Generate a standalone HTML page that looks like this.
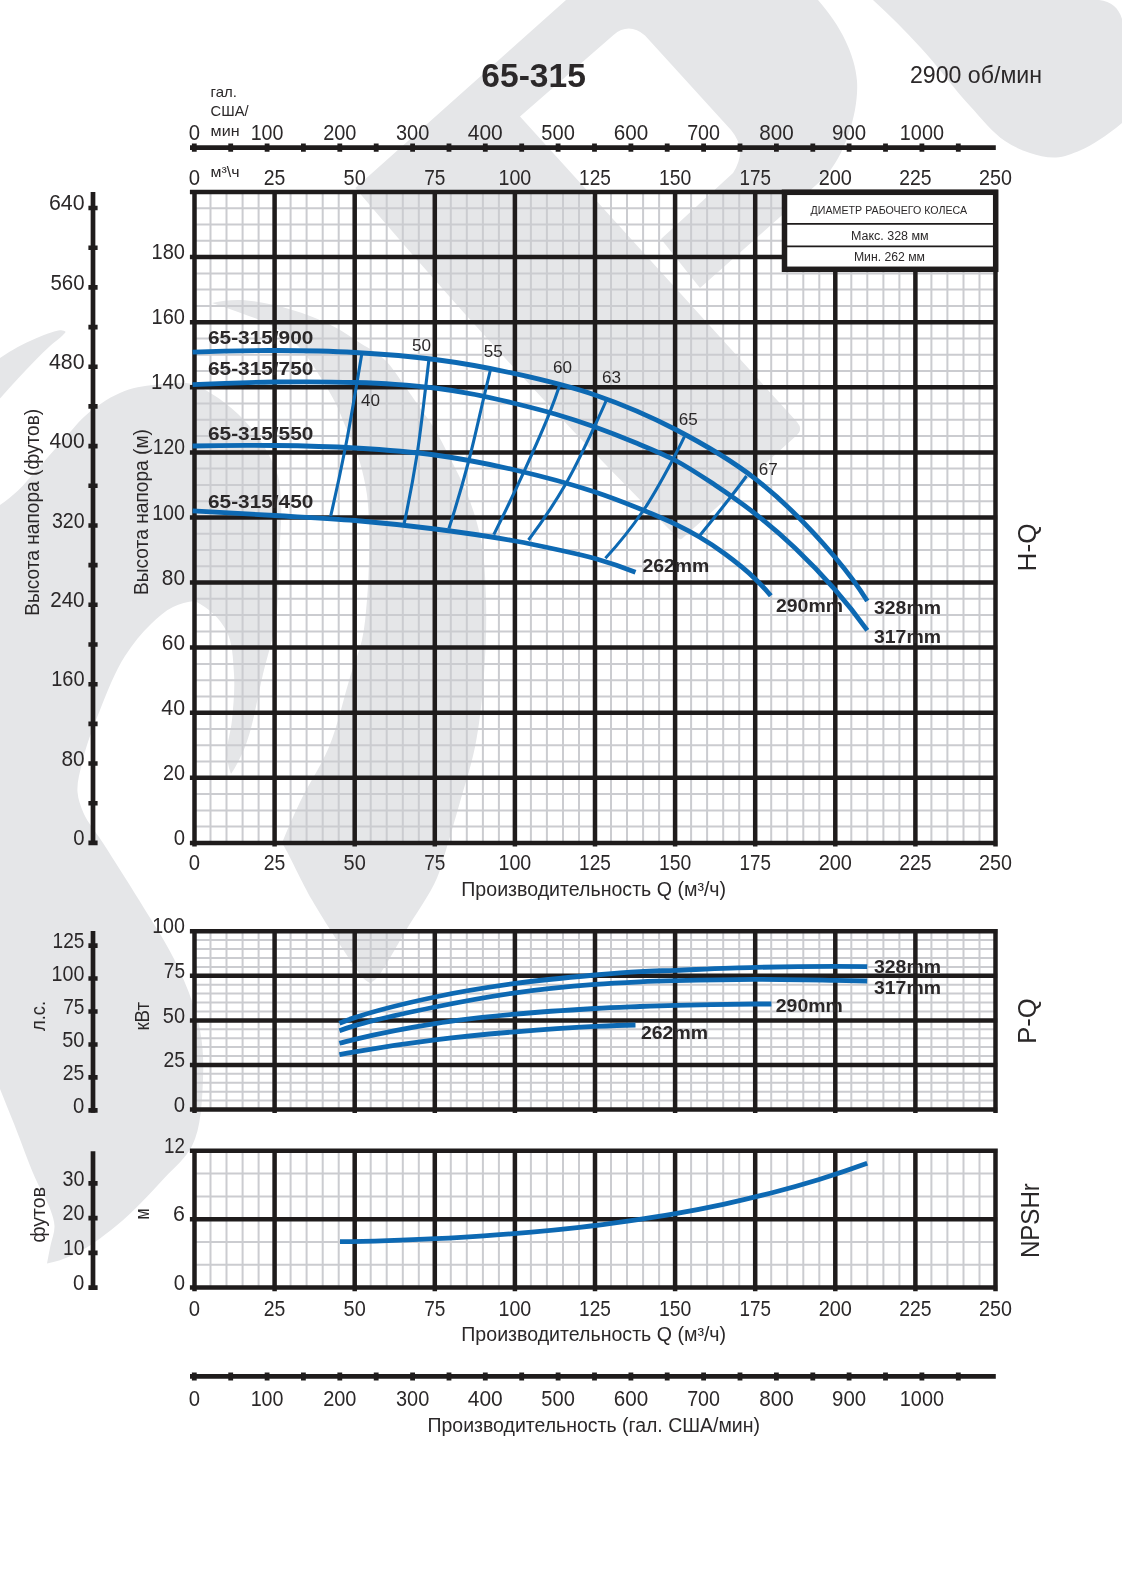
<!DOCTYPE html>
<html><head><meta charset="utf-8"><title>65-315</title>
<style>html,body{margin:0;padding:0;background:#fff;overflow:hidden}svg{display:block}text{font-family:"Liberation Sans",sans-serif;fill:#2b2829}</style></head><body>
<svg style="will-change:transform" width="1122" height="1573" viewBox="0 0 1122 1573">
<rect width="1122" height="1573" fill="#fff"/>
<g fill="#e5e6e8" stroke="none">
<path d="M0,358C5.8,354 11.7,350.3 17.8,347C23.6,343.8 29.7,341.1 35.6,338.5C41.1,336.2 46.9,333.6 52,332.2C55.1,331.3 58.3,330 61,330.3C62.6,330.5 65.3,330.9 65.5,331.8C65.7,332.6 64,333.9 63,335C60.1,338.3 54.3,342.1 50,346C45.1,350.4 40.5,355.1 35.6,360C29.7,365.9 23.7,372.4 17.8,378.7C11.8,385.2 5.9,391.8 0,398.5Z"/>
<path d="M0,505C6.2,500.8 12.2,496.1 17.8,490.8C24.1,484.9 29.4,477.9 35.6,471C44,461.6 53.3,450.8 62.3,441C71.1,431.4 78.9,420.7 89,412.5C99.6,403.9 112.1,395.7 124.6,391C135.9,386.8 148.3,385.4 160,384.3C170.7,383.3 182.4,381.6 192,384C199.3,385.9 205.4,390 212,394C220.8,399.4 230.1,406.5 238,414C246.1,421.7 254,431.3 260,440C264.1,446 267.4,451.8 270.5,458C273.4,463.9 276.3,469.6 278,476C280,483.5 280.4,491.3 281,500C282.1,517.2 279.8,540 279,560C278.2,580 278.9,600.5 276,620C273.3,638.4 267.5,655.4 263,674C257.3,697.4 253.1,727 245,747C240.9,757.1 236.2,766.1 231,774C228.7,768.1 227.4,761.8 227,755C226.4,744.4 230.8,732.1 232,720C233.4,705.3 235,689.2 234,674C233,659.2 232.8,642.3 226,630C219.5,618.2 209.1,608.5 195,601C187.2,601.7 179.9,603.7 173,607C165,610.9 158,617.4 151,624C141.7,632.9 132.7,644 125,656C114.9,671.8 107.3,691.7 100,710C93,727.4 85.8,746.6 82,763C79.7,773.1 76.8,782.8 77.5,792C78.1,799.3 80.5,806 83.5,813C87.9,823.1 96.1,832.3 103,843C114,860.2 127.1,880.5 139,900C152.2,921.7 167.5,944.1 178,967C187.4,987.5 196.1,1009.2 200,1030C203.1,1046.5 203.7,1062.1 203,1079C202.1,1100.5 201.2,1127.8 192,1146C185.5,1158.7 174.5,1167.1 164.4,1178C150,1193.6 132.9,1212.3 116,1226C102.2,1237.2 87.1,1248.5 73,1255C64.3,1259 55.6,1261.9 47,1263.5C48.1,1257.6 49.3,1251.6 50.5,1245.5C51.8,1239.1 54.7,1232.3 54.5,1226C54.3,1220.5 52.4,1215.6 50.5,1210C47.1,1200.1 40.2,1189.4 35.2,1178C28.1,1161.8 21.1,1141.7 14.5,1125C9.5,1112.5 4.7,1100.5 0,1089Z"/>
<path d="M212,303C220.4,301 229,300 238,300C249.5,300 262.2,302.4 274,305C286.2,307.7 298.7,311.7 310,316C319.3,319.6 328.2,323.5 336.5,328C343.7,331.9 350,336.4 357,341C366,346.9 377,352.4 385,360C392.5,367.2 397.9,376.7 404,385C409.6,392.7 414.8,400.5 420,408C424.7,414.8 429.6,420.8 434,428C439.7,437.2 444.8,447.6 450,458C456.1,470.2 462.9,482.8 468,496C473.4,510.1 478,524.6 481,540C484.7,558.9 485.4,579.5 486,600C486.7,624 485.8,649.4 484,674C482.2,698.4 479.7,723.8 475,747C471.1,766.1 465.1,784 460,802C455.4,818.3 450.5,835.3 446,850C442.9,859.9 441.1,868.4 437,878C429.8,895 415,915.1 405,932C398,943.9 391,956.6 385,966C382.2,970.4 380.1,974.9 377,978C374.9,980.1 372.5,981.8 370,983C367.5,981.7 365.1,980.1 363,978C360,975.1 357.9,971.1 355,967C344.1,951.4 324.7,922 312,900C301.9,882.5 291.1,858.6 285,848C283.9,846.1 282.9,844.5 282,843C287.3,829.6 293.3,816 300,802C308.5,784.1 320.9,766.5 329,747C338.4,724.3 344.2,695.6 351,674C354.8,661.8 359.4,651.7 362,640C364.9,627.2 365.8,613.4 367,600C368.2,586.1 368.7,571.7 369,558C369.3,546.1 369.4,534.3 369,523C368.6,513.4 368.2,504.1 367,495C365.8,486.5 364.1,478.2 362,470C359.8,461.6 357,452.6 354,445C351.9,439.6 349.4,435.3 347,430C343.4,422.1 340.2,412.5 336,404C331.6,395.1 326.5,386.6 321,378C314.6,368 308.2,356.7 300,348C292.4,339.9 283.6,332.8 274,327C263.2,320.5 249.6,316.4 238,312C229.1,308.6 220.4,305.6 212,303Z"/>
<path d="M566,0 L355.3,188 Q509.6,370.8 678,538 Q680,540.5 682.5,538.3 L796.5,435.5 Q803.5,429.5 797,422 L520,116.5 L613.5,35 Q629,22 645,35.5 L731,130 Q748,150 733,173 L661,239 L700,288 L824,178 C846,155 859,110 857,81 C855,55 841,26 818,0 Z"/>
<path d="M873,0C889.5,15.1 905.5,31.1 921,48C937.9,66.3 953.8,88.6 970,106C981.7,118.7 992.6,132.7 1005,141C1013,146.4 1021.3,150.2 1030,153C1038.4,155.7 1047.5,158 1056,157.5C1064.2,157 1072.5,153.7 1080,150.5C1086.7,147.7 1092.7,144 1099,140C1106.7,135.1 1114.4,129.4 1122,123L1122,19C1120.4,13.5 1117.7,9.2 1114,6C1110.1,2.7 1105.1,0.7 1099,0Z"/>
</g>
<path d="M210.5,192V842.9M226.5,192V842.9M242.6,192V842.9M258.6,192V842.9M290.6,192V842.9M306.6,192V842.9M322.7,192V842.9M338.7,192V842.9M370.7,192V842.9M386.7,192V842.9M402.8,192V842.9M418.8,192V842.9M450.8,192V842.9M466.8,192V842.9M482.9,192V842.9M498.9,192V842.9M530.9,192V842.9M546.9,192V842.9M563,192V842.9M579,192V842.9M611,192V842.9M627,192V842.9M643.1,192V842.9M659.1,192V842.9M691.1,192V842.9M707.1,192V842.9M723.2,192V842.9M739.2,192V842.9M771.2,192V842.9M787.2,192V842.9M803.3,192V842.9M819.3,192V842.9M851.3,192V842.9M867.3,192V842.9M883.4,192V842.9M899.4,192V842.9M931.4,192V842.9M947.4,192V842.9M963.5,192V842.9M979.5,192V842.9M194.5,208.3H995.5M194.5,224.5H995.5M194.5,240.8H995.5M194.5,273.4H995.5M194.5,289.6H995.5M194.5,305.9H995.5M194.5,338.5H995.5M194.5,354.7H995.5M194.5,371H995.5M194.5,403.5H995.5M194.5,419.8H995.5M194.5,436.1H995.5M194.5,468.6H995.5M194.5,484.9H995.5M194.5,501.2H995.5M194.5,533.7H995.5M194.5,550H995.5M194.5,566.3H995.5M194.5,598.8H995.5M194.5,615.1H995.5M194.5,631.4H995.5M194.5,663.9H995.5M194.5,680.2H995.5M194.5,696.4H995.5M194.5,729H995.5M194.5,745.3H995.5M194.5,761.5H995.5M194.5,794.1H995.5M194.5,810.4H995.5M194.5,826.6H995.5" stroke="#cbccd0" stroke-width="2" fill="none"/>
<path d="M194.5,189.8V846.5M274.6,189.8V846.5M354.7,189.8V846.5M434.8,189.8V846.5M514.9,189.8V846.5M595,189.8V846.5M675.1,189.8V846.5M755.2,189.8V846.5M835.3,189.8V846.5M915.4,189.8V846.5M995.5,189.8V846.5M189.9,192H997.8M189.9,257.1H997.8M189.9,322.2H997.8M189.9,387.3H997.8M189.9,452.4H997.8M189.9,517.5H997.8M189.9,582.5H997.8M189.9,647.6H997.8M189.9,712.7H997.8M189.9,777.8H997.8M189.9,842.9H997.8" stroke="#1f1c1c" stroke-width="4.5" fill="none"/>
<path d="M210.5,931.2V1109.5M226.5,931.2V1109.5M242.6,931.2V1109.5M258.6,931.2V1109.5M290.6,931.2V1109.5M306.6,931.2V1109.5M322.7,931.2V1109.5M338.7,931.2V1109.5M370.7,931.2V1109.5M386.7,931.2V1109.5M402.8,931.2V1109.5M418.8,931.2V1109.5M450.8,931.2V1109.5M466.8,931.2V1109.5M482.9,931.2V1109.5M498.9,931.2V1109.5M530.9,931.2V1109.5M546.9,931.2V1109.5M563,931.2V1109.5M579,931.2V1109.5M611,931.2V1109.5M627,931.2V1109.5M643.1,931.2V1109.5M659.1,931.2V1109.5M691.1,931.2V1109.5M707.1,931.2V1109.5M723.2,931.2V1109.5M739.2,931.2V1109.5M771.2,931.2V1109.5M787.2,931.2V1109.5M803.3,931.2V1109.5M819.3,931.2V1109.5M851.3,931.2V1109.5M867.3,931.2V1109.5M883.4,931.2V1109.5M899.4,931.2V1109.5M931.4,931.2V1109.5M947.4,931.2V1109.5M963.5,931.2V1109.5M979.5,931.2V1109.5M194.5,940.1H995.5M194.5,949H995.5M194.5,957.9H995.5M194.5,966.9H995.5M194.5,984.7H995.5M194.5,993.6H995.5M194.5,1002.5H995.5M194.5,1011.4H995.5M194.5,1029.3H995.5M194.5,1038.2H995.5M194.5,1047.1H995.5M194.5,1056H995.5M194.5,1073.8H995.5M194.5,1082.8H995.5M194.5,1091.7H995.5M194.5,1100.6H995.5" stroke="#cbccd0" stroke-width="2" fill="none"/>
<path d="M194.5,929V1113.1M274.6,929V1113.1M354.7,929V1113.1M434.8,929V1113.1M514.9,929V1113.1M595,929V1113.1M675.1,929V1113.1M755.2,929V1113.1M835.3,929V1113.1M915.4,929V1113.1M995.5,929V1113.1M189.9,931.2H997.8M189.9,975.8H997.8M189.9,1020.4H997.8M189.9,1064.9H997.8M189.9,1109.5H997.8" stroke="#1f1c1c" stroke-width="4.5" fill="none"/>
<path d="M210.5,1150.8V1287.6M226.5,1150.8V1287.6M242.6,1150.8V1287.6M258.6,1150.8V1287.6M290.6,1150.8V1287.6M306.6,1150.8V1287.6M322.7,1150.8V1287.6M338.7,1150.8V1287.6M370.7,1150.8V1287.6M386.7,1150.8V1287.6M402.8,1150.8V1287.6M418.8,1150.8V1287.6M450.8,1150.8V1287.6M466.8,1150.8V1287.6M482.9,1150.8V1287.6M498.9,1150.8V1287.6M530.9,1150.8V1287.6M546.9,1150.8V1287.6M563,1150.8V1287.6M579,1150.8V1287.6M611,1150.8V1287.6M627,1150.8V1287.6M643.1,1150.8V1287.6M659.1,1150.8V1287.6M691.1,1150.8V1287.6M707.1,1150.8V1287.6M723.2,1150.8V1287.6M739.2,1150.8V1287.6M771.2,1150.8V1287.6M787.2,1150.8V1287.6M803.3,1150.8V1287.6M819.3,1150.8V1287.6M851.3,1150.8V1287.6M867.3,1150.8V1287.6M883.4,1150.8V1287.6M899.4,1150.8V1287.6M931.4,1150.8V1287.6M947.4,1150.8V1287.6M963.5,1150.8V1287.6M979.5,1150.8V1287.6M194.5,1173.6H995.5M194.5,1196.4H995.5M194.5,1242H995.5M194.5,1264.8H995.5" stroke="#cbccd0" stroke-width="2" fill="none"/>
<path d="M194.5,1148.5V1291.2M274.6,1148.5V1291.2M354.7,1148.5V1291.2M434.8,1148.5V1291.2M514.9,1148.5V1291.2M595,1148.5V1291.2M675.1,1148.5V1291.2M755.2,1148.5V1291.2M835.3,1148.5V1291.2M915.4,1148.5V1291.2M995.5,1148.5V1291.2M189.9,1150.8H997.8M189.9,1219.2H997.8M189.9,1287.6H997.8" stroke="#1f1c1c" stroke-width="4.5" fill="none"/>
<rect x="784.5" y="192.3" width="211.2" height="77" fill="#fff" stroke="#1f1c1c" stroke-width="5.5"/>
<path d="M787,223.9H993M787,246.4H993" stroke="#1f1c1c" stroke-width="1.6" fill="none"/>
<path d="M93,192V845.1" stroke="#1f1c1c" stroke-width="4.7" fill="none"/>
<path d="M88.4,842.9H97.6M88.4,803.2H97.6M88.4,763.5H97.6M88.4,723.9H97.6M88.4,684.2H97.6M88.4,644.5H97.6M88.4,604.8H97.6M88.4,565.1H97.6M88.4,525.5H97.6M88.4,485.8H97.6M88.4,446.1H97.6M88.4,406.4H97.6M88.4,366.8H97.6M88.4,327.1H97.6M88.4,287.4H97.6M88.4,247.7H97.6M88.4,208H97.6" stroke="#1f1c1c" stroke-width="4.6" fill="none"/>
<path d="M93,931V1112.8" stroke="#1f1c1c" stroke-width="4.7" fill="none"/>
<path d="M88.4,1110.4H97.6M88.4,1077.4H97.6M88.4,1044.5H97.6M88.4,1011.5H97.6M88.4,978.5H97.6M88.4,945.6H97.6" stroke="#1f1c1c" stroke-width="4.6" fill="none"/>
<path d="M93,1151.2V1289.8" stroke="#1f1c1c" stroke-width="4.7" fill="none"/>
<path d="M88.4,1287.6H97.6M88.4,1252.9H97.6M88.4,1218.1H97.6M88.4,1183.4H97.6" stroke="#1f1c1c" stroke-width="4.6" fill="none"/>
<path d="M190,147.6H995.8" stroke="#1f1c1c" stroke-width="4.7" fill="none"/>
<path d="M194.3,143.6V151.8M230.7,143.6V151.8M267.1,143.6V151.8M303.4,143.6V151.8M339.8,143.6V151.8M376.2,143.6V151.8M412.6,143.6V151.8M449,143.6V151.8M485.3,143.6V151.8M521.7,143.6V151.8M558.1,143.6V151.8M594.5,143.6V151.8M630.9,143.6V151.8M667.2,143.6V151.8M703.6,143.6V151.8M740,143.6V151.8M776.4,143.6V151.8M812.8,143.6V151.8M849.1,143.6V151.8M885.5,143.6V151.8M921.9,143.6V151.8M958.3,143.6V151.8" stroke="#1f1c1c" stroke-width="4.8" fill="none"/>
<path d="M190,1376.4H995.8" stroke="#1f1c1c" stroke-width="4.7" fill="none"/>
<path d="M194.3,1372.4V1380.6M230.7,1372.4V1380.6M267.1,1372.4V1380.6M303.4,1372.4V1380.6M339.8,1372.4V1380.6M376.2,1372.4V1380.6M412.6,1372.4V1380.6M449,1372.4V1380.6M485.3,1372.4V1380.6M521.7,1372.4V1380.6M558.1,1372.4V1380.6M594.5,1372.4V1380.6M630.9,1372.4V1380.6M667.2,1372.4V1380.6M703.6,1372.4V1380.6M740,1372.4V1380.6M776.4,1372.4V1380.6M812.8,1372.4V1380.6M849.1,1372.4V1380.6M885.5,1372.4V1380.6M921.9,1372.4V1380.6M958.3,1372.4V1380.6" stroke="#1f1c1c" stroke-width="4.8" fill="none"/>
<path d="M192.6,510.9C220.2,512.3 247.6,513.9 275,515.5C301.8,517.1 328.4,518.3 355,520.5C381.7,522.8 408.4,525.6 435,529C461.7,532.4 490.7,536.6 515,541C530.6,543.8 544.8,546.9 559,550C571.3,552.7 583,555.1 595,558.5C608.4,562.3 621.9,566.9 635.5,572.3" stroke="#0d69b3" stroke-width="4.8" fill="none" stroke-linecap="butt"/>
<path d="M192.6,446C220.2,445.3 247.6,445.2 275,445.5C301.8,445.8 328.4,446.4 355,448C381.7,449.6 408.5,451.4 435,455C461.8,458.7 488.5,463.9 515,470C541.9,476.2 570.5,483.9 595,492C612,497.6 627.8,503.9 642.8,510C654.3,514.7 665.5,519.4 675.8,524.4C684,528.4 691.3,532.2 699,536.8C707.7,541.9 716.3,547.5 724.8,553.8C735,561.3 746.3,570.3 755,578.7C760.9,584.4 766.2,590.1 770.8,595.8" stroke="#0d69b3" stroke-width="4.8" fill="none" stroke-linecap="butt"/>
<path d="M192.6,384.6C220.2,383.2 247.6,382.3 275,382C301.8,381.7 331,381.8 355,382.5C369.3,382.9 381.7,383.4 395,384.3C408.3,385.2 421.7,386.3 435,388C448.4,389.7 461.7,391.9 475,394.5C488.4,397.1 501.7,400.3 515,403.5C528.4,406.8 541.8,410.1 555,414C568.4,417.9 581.8,422.3 595,427C608.4,431.8 621.7,437 635,442.5C648.6,448.1 662.5,453.6 675.6,460.5C689.2,467.7 702,476.4 715,485C728.5,494 742,503.4 755,513.6C768.7,524.3 782.1,535.8 795,548C808.8,561.1 822.5,575.4 835,589.7C846.5,602.9 857.3,616.4 867.3,630.3" stroke="#0d69b3" stroke-width="4.8" fill="none" stroke-linecap="butt"/>
<path d="M192.6,352.2C220.2,351 247.6,350.4 275,350.5C301.8,350.6 328.4,351 355,352.5C381.7,354 408.4,356 435,359.5C461.8,363 488.5,367.8 515,373.7C541.9,379.6 568.8,386 595,395C622.4,404.4 649.5,416 675.6,429.5C702.9,443.7 730,459.2 755,478.6C783.7,500.9 813.5,531.8 835,557.3C847.5,572.1 858.3,586.7 867.3,601" stroke="#0d69b3" stroke-width="4.8" fill="none" stroke-linecap="butt"/>
<path d="M362,352.5C360.5,361.7 358.8,371.7 357,382.5C353.7,401.7 349.7,425.7 345.4,447.5C340.9,470.2 336,493.1 330.7,516" stroke="#0d69b3" stroke-width="3.1" fill="none" stroke-linecap="butt"/>
<path d="M429,359C428.1,367.2 427,376.2 425.8,386C423.4,405.7 420.6,432 417,454.8C413.4,477.8 409.1,500.6 404.2,523.4" stroke="#0d69b3" stroke-width="3.1" fill="none" stroke-linecap="butt"/>
<path d="M490.5,369.5C488.4,378.3 486.1,387.8 483.7,398C479.3,416.6 474.3,439.9 468.7,461C462.8,483.4 456.2,505.9 448.9,528.5" stroke="#0d69b3" stroke-width="3.1" fill="none" stroke-linecap="butt"/>
<path d="M559.4,386C556.7,394.2 553.5,403 549.8,412.4C543.1,429.5 533.6,450.5 524.8,469.8C515,491.2 504.7,512.8 493.8,534.6" stroke="#0d69b3" stroke-width="3.1" fill="none" stroke-linecap="butt"/>
<path d="M606,401C602.7,408.7 598.9,417 594.7,426C586.7,442.9 576.8,464.9 566,483.5C554.8,502.9 542.3,521.7 528.5,540" stroke="#0d69b3" stroke-width="3.1" fill="none" stroke-linecap="butt"/>
<path d="M684.4,436.7C681.1,443.7 677.2,451.3 672.9,459.4C664.7,474.7 654.2,494.6 643,511C631.7,527.5 619.2,543.3 605.4,558.2" stroke="#0d69b3" stroke-width="3.1" fill="none" stroke-linecap="butt"/>
<path d="M746.5,476C741.9,482.4 736.8,489.1 731.2,496.3C721.8,508.5 711,521.8 699,536.4" stroke="#0d69b3" stroke-width="3.1" fill="none" stroke-linecap="butt"/>
<path d="M339.4,1054.7C343.9,1053.8 349.1,1052.8 354.8,1051.8C374.5,1048.3 408.2,1043.1 435,1039.8C461.7,1036.5 488.6,1034 515.4,1031.8C542,1029.6 571.2,1027.6 595.2,1026.4C609.6,1025.7 623,1025.2 635.5,1025" stroke="#0d69b3" stroke-width="4.8" fill="none" stroke-linecap="butt"/>
<path d="M339.4,1043.3C343.9,1042 349.1,1040.7 354.8,1039.3C374.4,1034.6 408.1,1027.8 435,1023.6C461.7,1019.4 488.6,1016.7 515.4,1014.2C542,1011.7 570.8,1009.9 595.2,1008.5C611,1007.6 625.5,1007.1 640,1006.5C652.3,1006 663,1005.6 675.9,1005.3C699.3,1004.7 735.7,1004.1 755.5,1004C761.4,1004 766.7,1004 771.4,1004" stroke="#0d69b3" stroke-width="4.8" fill="none" stroke-linecap="butt"/>
<path d="M339.4,1030.7C343.9,1029 349,1027.3 354.8,1025.6C374.3,1019.7 408.1,1012.5 435,1007C461.7,1001.6 488.5,996.6 515.4,992.8C541.9,989.1 570.7,986.3 595.2,984.4C611,983.2 625.5,982.5 640,981.8C652.3,981.2 663,980.9 675.9,980.6C699.3,980 728.9,979.4 755.5,979.3C782.2,979.2 812.7,979.9 835.7,980.3C847.1,980.5 857.6,980.7 867.2,981" stroke="#0d69b3" stroke-width="4.8" fill="none" stroke-linecap="butt"/>
<path d="M339.4,1023.3C343.9,1021.4 349,1019.5 354.8,1017.6C374.2,1011.1 408.1,1002.7 435,997C461.6,991.3 488.5,987.1 515.4,983.4C541.9,979.8 570.7,977.2 595.2,975C611,973.6 625.5,972.4 640,971.6C652.3,970.9 663,970.8 675.9,970.3C699.3,969.4 728.9,968 755.5,967.4C782.2,966.7 812.7,966.4 835.7,966.4C847.1,966.4 857.6,966.5 867.2,966.7" stroke="#0d69b3" stroke-width="4.8" fill="none" stroke-linecap="butt"/>
<path d="M340,1241.7C356,1241.5 371.9,1241.1 387.9,1240.6C403.9,1240.1 419.8,1239.5 435.8,1238.7C451.8,1237.9 467.7,1237 483.7,1235.9C499.7,1234.8 515.6,1233.5 531.6,1232.1C547.6,1230.7 563.5,1229.1 579.5,1227.3C595.5,1225.5 611.5,1223.4 627.5,1221.1C643.5,1218.8 659.5,1216.4 675.4,1213.6C691.4,1210.8 707.4,1207.7 723.3,1204.3C739.3,1200.9 755.3,1197.1 771.2,1193C787.2,1188.9 803.2,1184.4 819.1,1179.5C835.2,1174.5 851.3,1169.1 867.2,1163.3" stroke="#0d69b3" stroke-width="4.8" fill="none" stroke-linecap="butt"/>
<text x="481.3" y="87.2" font-size="33.5" font-weight="bold" textLength="104.5" lengthAdjust="spacingAndGlyphs">65-315</text>
<text x="910" y="83" font-size="24" textLength="132" lengthAdjust="spacingAndGlyphs">2900 об/мин</text>
<text x="210.6" y="96.5" font-size="14.5" textLength="26.4" lengthAdjust="spacingAndGlyphs">гал.</text>
<text x="210.6" y="116" font-size="14.5" textLength="38" lengthAdjust="spacingAndGlyphs">США/</text>
<text x="210.6" y="135.5" font-size="14.5" textLength="29" lengthAdjust="spacingAndGlyphs">мин</text>
<text x="210.6" y="176.6" font-size="14.5" textLength="29" lengthAdjust="spacingAndGlyphs">м³\ч</text>
<text x="194.3" y="140.4" font-size="21.4" text-anchor="middle" textLength="11.3" lengthAdjust="spacingAndGlyphs">0</text>
<text x="194.3" y="1405.5" font-size="21.4" text-anchor="middle" textLength="11.3" lengthAdjust="spacingAndGlyphs">0</text>
<text x="267.1" y="140.4" font-size="21.4" text-anchor="middle" textLength="32.8" lengthAdjust="spacingAndGlyphs">100</text>
<text x="267.1" y="1405.5" font-size="21.4" text-anchor="middle" textLength="32.8" lengthAdjust="spacingAndGlyphs">100</text>
<text x="339.8" y="140.4" font-size="21.4" text-anchor="middle" textLength="33.3" lengthAdjust="spacingAndGlyphs">200</text>
<text x="339.8" y="1405.5" font-size="21.4" text-anchor="middle" textLength="33.3" lengthAdjust="spacingAndGlyphs">200</text>
<text x="412.6" y="140.4" font-size="21.4" text-anchor="middle" textLength="33.3" lengthAdjust="spacingAndGlyphs">300</text>
<text x="412.6" y="1405.5" font-size="21.4" text-anchor="middle" textLength="33.3" lengthAdjust="spacingAndGlyphs">300</text>
<text x="485.3" y="140.4" font-size="21.4" text-anchor="middle" textLength="35" lengthAdjust="spacingAndGlyphs">400</text>
<text x="485.3" y="1405.5" font-size="21.4" text-anchor="middle" textLength="35" lengthAdjust="spacingAndGlyphs">400</text>
<text x="558.1" y="140.4" font-size="21.4" text-anchor="middle" textLength="33.5" lengthAdjust="spacingAndGlyphs">500</text>
<text x="558.1" y="1405.5" font-size="21.4" text-anchor="middle" textLength="33.5" lengthAdjust="spacingAndGlyphs">500</text>
<text x="630.9" y="140.4" font-size="21.4" text-anchor="middle" textLength="34.5" lengthAdjust="spacingAndGlyphs">600</text>
<text x="630.9" y="1405.5" font-size="21.4" text-anchor="middle" textLength="34.5" lengthAdjust="spacingAndGlyphs">600</text>
<text x="703.6" y="140.4" font-size="21.4" text-anchor="middle" textLength="32.9" lengthAdjust="spacingAndGlyphs">700</text>
<text x="703.6" y="1405.5" font-size="21.4" text-anchor="middle" textLength="32.9" lengthAdjust="spacingAndGlyphs">700</text>
<text x="776.4" y="140.4" font-size="21.4" text-anchor="middle" textLength="34.5" lengthAdjust="spacingAndGlyphs">800</text>
<text x="776.4" y="1405.5" font-size="21.4" text-anchor="middle" textLength="34.5" lengthAdjust="spacingAndGlyphs">800</text>
<text x="849.1" y="140.4" font-size="21.4" text-anchor="middle" textLength="34.1" lengthAdjust="spacingAndGlyphs">900</text>
<text x="849.1" y="1405.5" font-size="21.4" text-anchor="middle" textLength="34.1" lengthAdjust="spacingAndGlyphs">900</text>
<text x="921.9" y="140.4" font-size="21.4" text-anchor="middle" textLength="44.1" lengthAdjust="spacingAndGlyphs">1000</text>
<text x="921.9" y="1405.5" font-size="21.4" text-anchor="middle" textLength="44.1" lengthAdjust="spacingAndGlyphs">1000</text>
<text x="194.5" y="184.7" font-size="21.4" text-anchor="middle" textLength="11.3" lengthAdjust="spacingAndGlyphs">0</text>
<text x="194.5" y="870.4" font-size="21.4" text-anchor="middle" textLength="11.3" lengthAdjust="spacingAndGlyphs">0</text>
<text x="194.5" y="1316.4" font-size="21.4" text-anchor="middle" textLength="11.3" lengthAdjust="spacingAndGlyphs">0</text>
<text x="274.6" y="184.7" font-size="21.4" text-anchor="middle" textLength="21.6" lengthAdjust="spacingAndGlyphs">25</text>
<text x="274.6" y="870.4" font-size="21.4" text-anchor="middle" textLength="21.6" lengthAdjust="spacingAndGlyphs">25</text>
<text x="274.6" y="1316.4" font-size="21.4" text-anchor="middle" textLength="21.6" lengthAdjust="spacingAndGlyphs">25</text>
<text x="354.7" y="184.7" font-size="21.4" text-anchor="middle" textLength="22.2" lengthAdjust="spacingAndGlyphs">50</text>
<text x="354.7" y="870.4" font-size="21.4" text-anchor="middle" textLength="22.2" lengthAdjust="spacingAndGlyphs">50</text>
<text x="354.7" y="1316.4" font-size="21.4" text-anchor="middle" textLength="22.2" lengthAdjust="spacingAndGlyphs">50</text>
<text x="434.8" y="184.7" font-size="21.4" text-anchor="middle" textLength="21.2" lengthAdjust="spacingAndGlyphs">75</text>
<text x="434.8" y="870.4" font-size="21.4" text-anchor="middle" textLength="21.2" lengthAdjust="spacingAndGlyphs">75</text>
<text x="434.8" y="1316.4" font-size="21.4" text-anchor="middle" textLength="21.2" lengthAdjust="spacingAndGlyphs">75</text>
<text x="514.9" y="184.7" font-size="21.4" text-anchor="middle" textLength="32.8" lengthAdjust="spacingAndGlyphs">100</text>
<text x="514.9" y="870.4" font-size="21.4" text-anchor="middle" textLength="32.8" lengthAdjust="spacingAndGlyphs">100</text>
<text x="514.9" y="1316.4" font-size="21.4" text-anchor="middle" textLength="32.8" lengthAdjust="spacingAndGlyphs">100</text>
<text x="595" y="184.7" font-size="21.4" text-anchor="middle" textLength="31.8" lengthAdjust="spacingAndGlyphs">125</text>
<text x="595" y="870.4" font-size="21.4" text-anchor="middle" textLength="31.8" lengthAdjust="spacingAndGlyphs">125</text>
<text x="595" y="1316.4" font-size="21.4" text-anchor="middle" textLength="31.8" lengthAdjust="spacingAndGlyphs">125</text>
<text x="675.1" y="184.7" font-size="21.4" text-anchor="middle" textLength="32.4" lengthAdjust="spacingAndGlyphs">150</text>
<text x="675.1" y="870.4" font-size="21.4" text-anchor="middle" textLength="32.4" lengthAdjust="spacingAndGlyphs">150</text>
<text x="675.1" y="1316.4" font-size="21.4" text-anchor="middle" textLength="32.4" lengthAdjust="spacingAndGlyphs">150</text>
<text x="755.2" y="184.7" font-size="21.4" text-anchor="middle" textLength="31.4" lengthAdjust="spacingAndGlyphs">175</text>
<text x="755.2" y="870.4" font-size="21.4" text-anchor="middle" textLength="31.4" lengthAdjust="spacingAndGlyphs">175</text>
<text x="755.2" y="1316.4" font-size="21.4" text-anchor="middle" textLength="31.4" lengthAdjust="spacingAndGlyphs">175</text>
<text x="835.3" y="184.7" font-size="21.4" text-anchor="middle" textLength="33.3" lengthAdjust="spacingAndGlyphs">200</text>
<text x="835.3" y="870.4" font-size="21.4" text-anchor="middle" textLength="33.3" lengthAdjust="spacingAndGlyphs">200</text>
<text x="835.3" y="1316.4" font-size="21.4" text-anchor="middle" textLength="33.3" lengthAdjust="spacingAndGlyphs">200</text>
<text x="915.4" y="184.7" font-size="21.4" text-anchor="middle" textLength="32.3" lengthAdjust="spacingAndGlyphs">225</text>
<text x="915.4" y="870.4" font-size="21.4" text-anchor="middle" textLength="32.3" lengthAdjust="spacingAndGlyphs">225</text>
<text x="915.4" y="1316.4" font-size="21.4" text-anchor="middle" textLength="32.3" lengthAdjust="spacingAndGlyphs">225</text>
<text x="995.5" y="184.7" font-size="21.4" text-anchor="middle" textLength="32.9" lengthAdjust="spacingAndGlyphs">250</text>
<text x="995.5" y="870.4" font-size="21.4" text-anchor="middle" textLength="32.9" lengthAdjust="spacingAndGlyphs">250</text>
<text x="995.5" y="1316.4" font-size="21.4" text-anchor="middle" textLength="32.9" lengthAdjust="spacingAndGlyphs">250</text>
<text x="185" y="844.9" font-size="21.4" text-anchor="end" textLength="11.3" lengthAdjust="spacingAndGlyphs">0</text>
<text x="185" y="779.8" font-size="21.4" text-anchor="end" textLength="22" lengthAdjust="spacingAndGlyphs">20</text>
<text x="185" y="714.7" font-size="21.4" text-anchor="end" textLength="23.7" lengthAdjust="spacingAndGlyphs">40</text>
<text x="185" y="649.6" font-size="21.4" text-anchor="end" textLength="23.2" lengthAdjust="spacingAndGlyphs">60</text>
<text x="185" y="584.5" font-size="21.4" text-anchor="end" textLength="23.2" lengthAdjust="spacingAndGlyphs">80</text>
<text x="185" y="519.5" font-size="21.4" text-anchor="end" textLength="32.8" lengthAdjust="spacingAndGlyphs">100</text>
<text x="185" y="454.4" font-size="21.4" text-anchor="end" textLength="32.2" lengthAdjust="spacingAndGlyphs">120</text>
<text x="185" y="389.3" font-size="21.4" text-anchor="end" textLength="33.9" lengthAdjust="spacingAndGlyphs">140</text>
<text x="185" y="324.2" font-size="21.4" text-anchor="end" textLength="33.4" lengthAdjust="spacingAndGlyphs">160</text>
<text x="185" y="259.1" font-size="21.4" text-anchor="end" textLength="33.4" lengthAdjust="spacingAndGlyphs">180</text>
<text x="84.6" y="845.1" font-size="21.4" text-anchor="end" textLength="11.3" lengthAdjust="spacingAndGlyphs">0</text>
<text x="84.6" y="765.7" font-size="21.4" text-anchor="end" textLength="23.2" lengthAdjust="spacingAndGlyphs">80</text>
<text x="84.6" y="686.4" font-size="21.4" text-anchor="end" textLength="33.4" lengthAdjust="spacingAndGlyphs">160</text>
<text x="84.6" y="607" font-size="21.4" text-anchor="end" textLength="34.4" lengthAdjust="spacingAndGlyphs">240</text>
<text x="84.6" y="527.7" font-size="21.4" text-anchor="end" textLength="32.7" lengthAdjust="spacingAndGlyphs">320</text>
<text x="84.6" y="448.3" font-size="21.4" text-anchor="end" textLength="35" lengthAdjust="spacingAndGlyphs">400</text>
<text x="84.6" y="369" font-size="21.4" text-anchor="end" textLength="35.6" lengthAdjust="spacingAndGlyphs">480</text>
<text x="84.6" y="289.6" font-size="21.4" text-anchor="end" textLength="34.1" lengthAdjust="spacingAndGlyphs">560</text>
<text x="84.6" y="210.2" font-size="21.4" text-anchor="end" textLength="35.6" lengthAdjust="spacingAndGlyphs">640</text>
<text x="185" y="1111.7" font-size="21.4" text-anchor="end" textLength="11.3" lengthAdjust="spacingAndGlyphs">0</text>
<text x="185" y="1067.1" font-size="21.4" text-anchor="end" textLength="21.6" lengthAdjust="spacingAndGlyphs">25</text>
<text x="185" y="1022.6" font-size="21.4" text-anchor="end" textLength="22.2" lengthAdjust="spacingAndGlyphs">50</text>
<text x="185" y="978" font-size="21.4" text-anchor="end" textLength="21.2" lengthAdjust="spacingAndGlyphs">75</text>
<text x="185" y="933.4" font-size="21.4" text-anchor="end" textLength="32.8" lengthAdjust="spacingAndGlyphs">100</text>
<text x="84.4" y="1112.7" font-size="21.4" text-anchor="end" textLength="11.3" lengthAdjust="spacingAndGlyphs">0</text>
<text x="84.4" y="1079.7" font-size="21.4" text-anchor="end" textLength="21.6" lengthAdjust="spacingAndGlyphs">25</text>
<text x="84.4" y="1046.8" font-size="21.4" text-anchor="end" textLength="22.2" lengthAdjust="spacingAndGlyphs">50</text>
<text x="84.4" y="1013.8" font-size="21.4" text-anchor="end" textLength="21.2" lengthAdjust="spacingAndGlyphs">75</text>
<text x="84.4" y="980.8" font-size="21.4" text-anchor="end" textLength="32.8" lengthAdjust="spacingAndGlyphs">100</text>
<text x="84.4" y="947.9" font-size="21.4" text-anchor="end" textLength="31.8" lengthAdjust="spacingAndGlyphs">125</text>
<text x="185" y="1289.6" font-size="21.4" text-anchor="end" textLength="11.3" lengthAdjust="spacingAndGlyphs">0</text>
<text x="185" y="1221.2" font-size="21.4" text-anchor="end" textLength="11.9" lengthAdjust="spacingAndGlyphs">6</text>
<text x="185" y="1152.8" font-size="21.4" text-anchor="end" textLength="20.9" lengthAdjust="spacingAndGlyphs">12</text>
<text x="84.4" y="1289.8" font-size="21.4" text-anchor="end" textLength="11.3" lengthAdjust="spacingAndGlyphs">0</text>
<text x="84.4" y="1255.1" font-size="21.4" text-anchor="end" textLength="21.5" lengthAdjust="spacingAndGlyphs">10</text>
<text x="84.4" y="1220.3" font-size="21.4" text-anchor="end" textLength="22" lengthAdjust="spacingAndGlyphs">20</text>
<text x="84.4" y="1185.6" font-size="21.4" text-anchor="end" textLength="22" lengthAdjust="spacingAndGlyphs">30</text>
<text x="461.3" y="895.6" font-size="19.5" textLength="264.8" lengthAdjust="spacingAndGlyphs">Производительность Q (м³/ч)</text>
<text x="461.3" y="1340.6" font-size="19.5" textLength="264.8" lengthAdjust="spacingAndGlyphs">Производительность Q (м³/ч)</text>
<text x="427.5" y="1431.5" font-size="19.5" textLength="332.5" lengthAdjust="spacingAndGlyphs">Производительность (гал. США/мин)</text>
<text x="38.8" y="512.3" font-size="19.5" text-anchor="middle" textLength="207" lengthAdjust="spacingAndGlyphs" transform="rotate(-90 38.8 512.3)">Высота напора (футов)</text>
<text x="148.3" y="512" font-size="19.5" text-anchor="middle" textLength="166" lengthAdjust="spacingAndGlyphs" transform="rotate(-90 148.3 512)">Высота напора (м)</text>
<text x="44.7" y="1016" font-size="19.5" text-anchor="middle" textLength="30" lengthAdjust="spacingAndGlyphs" transform="rotate(-90 44.7 1016)">л.с.</text>
<text x="148.6" y="1016.3" font-size="19.5" text-anchor="middle" textLength="28.6" lengthAdjust="spacingAndGlyphs" transform="rotate(-90 148.6 1016.3)">кВт</text>
<text x="44.7" y="1214.7" font-size="19.5" text-anchor="middle" textLength="55.5" lengthAdjust="spacingAndGlyphs" transform="rotate(-90 44.7 1214.7)">футов</text>
<text x="148.6" y="1214" font-size="19.5" text-anchor="middle" textLength="11" lengthAdjust="spacingAndGlyphs" transform="rotate(-90 148.6 1214)">м</text>
<text x="1036" y="547.5" font-size="25" text-anchor="middle" textLength="48" lengthAdjust="spacingAndGlyphs" transform="rotate(-90 1036 547.5)">H-Q</text>
<text x="1036.2" y="1021" font-size="25" text-anchor="middle" textLength="45.5" lengthAdjust="spacingAndGlyphs" transform="rotate(-90 1036.2 1021)">P-Q</text>
<text x="1038.7" y="1220.6" font-size="25" text-anchor="middle" textLength="75" lengthAdjust="spacingAndGlyphs" transform="rotate(-90 1038.7 1220.6)">NPSHr</text>
<text x="208" y="344" font-size="18.2" font-weight="bold" textLength="105.3" lengthAdjust="spacingAndGlyphs">65-315/900</text>
<text x="208" y="375.2" font-size="18.2" font-weight="bold" textLength="105.3" lengthAdjust="spacingAndGlyphs">65-315/750</text>
<text x="208" y="440.3" font-size="18.2" font-weight="bold" textLength="105.3" lengthAdjust="spacingAndGlyphs">65-315/550</text>
<text x="208" y="507.5" font-size="18.2" font-weight="bold" textLength="105.3" lengthAdjust="spacingAndGlyphs">65-315/450</text>
<text x="874" y="613.7" font-size="18.2" font-weight="bold" textLength="67" lengthAdjust="spacingAndGlyphs">328mm</text>
<text x="874" y="642.5" font-size="18.2" font-weight="bold" textLength="67" lengthAdjust="spacingAndGlyphs">317mm</text>
<text x="776" y="612" font-size="18.2" font-weight="bold" textLength="67" lengthAdjust="spacingAndGlyphs">290mm</text>
<text x="642.4" y="572" font-size="18.2" font-weight="bold" textLength="67" lengthAdjust="spacingAndGlyphs">262mm</text>
<text x="874" y="972.5" font-size="18.2" font-weight="bold" textLength="67" lengthAdjust="spacingAndGlyphs">328mm</text>
<text x="874" y="993.5" font-size="18.2" font-weight="bold" textLength="67" lengthAdjust="spacingAndGlyphs">317mm</text>
<text x="775.8" y="1012.4" font-size="18.2" font-weight="bold" textLength="67" lengthAdjust="spacingAndGlyphs">290mm</text>
<text x="641" y="1038.5" font-size="18.2" font-weight="bold" textLength="67" lengthAdjust="spacingAndGlyphs">262mm</text>
<text x="361" y="406" font-size="16.5" textLength="19" lengthAdjust="spacingAndGlyphs">40</text>
<text x="412" y="351" font-size="16.5" textLength="19" lengthAdjust="spacingAndGlyphs">50</text>
<text x="483.7" y="357" font-size="16.5" textLength="19" lengthAdjust="spacingAndGlyphs">55</text>
<text x="553" y="373" font-size="16.5" textLength="19" lengthAdjust="spacingAndGlyphs">60</text>
<text x="602" y="382.5" font-size="16.5" textLength="19" lengthAdjust="spacingAndGlyphs">63</text>
<text x="678.7" y="424.5" font-size="16.5" textLength="19" lengthAdjust="spacingAndGlyphs">65</text>
<text x="758.7" y="474.5" font-size="16.5" textLength="19" lengthAdjust="spacingAndGlyphs">67</text>
<text x="810.6" y="214.2" font-size="11.3" textLength="156.6" lengthAdjust="spacingAndGlyphs">ДИАМЕТР РАБОЧЕГО КОЛЕСА</text>
<text x="850.9" y="240.3" font-size="12.5" textLength="77.8" lengthAdjust="spacingAndGlyphs">Макс. 328 мм</text>
<text x="853.9" y="261.4" font-size="12.5" textLength="71.1" lengthAdjust="spacingAndGlyphs">Мин. 262 мм</text>
</svg></body></html>
